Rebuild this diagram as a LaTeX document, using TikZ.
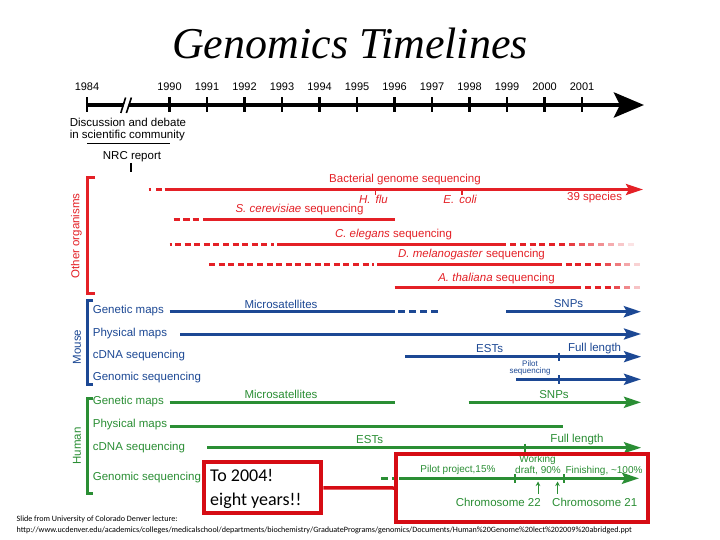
\documentclass[tikz,border=0pt]{standalone}
\usepackage{fontspec}
\setmainfont{Liberation Sans}
\newfontfamily\titlefont{Liberation Serif}
\newfontfamily\calib{Carlito}
\usetikzlibrary{arrows.meta}
\definecolor{ored}{RGB}{228,32,38}
\definecolor{mblue}{RGB}{28,72,148}
\definecolor{hgreen}{RGB}{42,142,52}
\definecolor{boxred}{RGB}{214,12,20}
\tikzset{
  yr/.style={font=\fontsize{11}{12}\selectfont, inner sep=0pt},
  txt/.style={font=\fontsize{11.5}{13}\selectfont, inner sep=0pt},
  smalltxt/.style={font=\fontsize{10}{12}\selectfont, inner sep=0pt},
  tinytxt/.style={font=\fontsize{8}{9}\selectfont, inner sep=0pt},
  rowlab/.style={txt, anchor=west},
  redline/.style={ored, line width=3pt},
  blueline/.style={mblue, line width=3pt},
  greenline/.style={hgreen, line width=3pt},
  tip/.style={-{Stealth[length=17pt,width=11pt,inset=3pt]}},
  dsh/.style={dash pattern=on 6pt off 3.6pt},
  boxx/.style={draw=boxred, line width=4pt, inner sep=0pt},
  foot/.style={font=\calib\fontsize{8.1}{9}\selectfont, anchor=west, inner sep=0pt},
  boxtxt/.style={font=\calib\fontsize{18}{20}\selectfont, anchor=west, inner sep=0pt},
}
\newcommand\fadedashes[4]{%
  \foreach \i in {0,...,#3}{%
    \pgfmathsetmacro\op{min(1,1.6*(1-\i/(#3+1)))}%
    \draw[#1, line width=3pt, opacity=\op] ({#2+\i*9.8},#4) -- ++(6,0);
  }}
\begin{document}
\begin{tikzpicture}[x=1pt,y=-1pt]
\path[use as bounding box, fill=white] (0,0) rectangle (720,540);

% title
\node[font=\titlefont\itshape\fontsize{44}{50}\selectfont, anchor=base, inner sep=0pt] (title) at (350,59) {Genomics Timelines};

% main axis
\coordinate (a0) at (86,105);
\coordinate (a1) at (644,105);
\draw[line width=4.5pt, -{Stealth[length=30pt,width=25pt,inset=6pt]}] (a0) -- (a1);
\node[yr] (y1984) at (87,87) {1984};
\draw[line width=2.2pt] (87,97.5) -- (87,112.5);
\foreach \yy [count=\k from 0] in {1990,...,2001} {
  \pgfmathsetmacro\xx{169.5+37.5*\k}
  \node[yr] (y\yy) at (\xx,87) {\yy};
  \draw[line width=2.2pt] (\xx,97.5) -- (\xx,112.5);
}
% break
\fill[white] (121.5,113) -- (126.5,97) -- (131,97) -- (126,113) -- cycle;
\draw[line width=1.6pt] (120.8,113) -- (125.6,97.5);
\draw[line width=1.6pt] (126.4,113) -- (131.4,97.5);

\node[rowlab] (disc1) at (69.6,122.7) {Discussion and debate};
\node[rowlab] (disc2) at (69.6,136) {in scientific community};
\draw[line width=1.5pt] (87,143.5) -- (169.5,143.5);
\node[txt] (nrc) at (132,157) {NRC report};
\draw[line width=2.5pt] (131,163) -- (131,172);

% ---------- Other organisms ----------
\draw[ored, line width=3pt] (95,178) -- (87,178) -- (87,293) -- (95,293);
\node[txt, text=ored, rotate=90] (oth) at (76.5,236) {Other organisms};

\draw[redline] (148.5,189.5) -- (151,189.5);
\draw[redline] (156,189.5) -- (162,189.5);
\draw[redline, tip] (164.6,189.5) -- (643,189.5);
\draw[ored, line width=1.2pt] (375.4,189.5) -- (375.4,195.5);
\draw[ored, line width=1.2pt] (462,189.5) -- (462,195.5);
\node[txt, text=ored] (bact) at (405,180) {Bacterial genome sequencing};
\node[txt, text=ored] (hflu) at (373.5,199) {\itshape H.\ \,flu};
\node[txt, text=ored] (ecoli) at (460,199) {\itshape E.\ \,coli};
\node[txt, text=ored] (spec) at (594.6,197.5) {39 species};

\draw[redline] (173.5,219.3) -- (180,219.3);
\draw[redline] (183,219.3) -- (190,219.3);
\draw[redline] (192.7,219.3) -- (198.5,219.3);
\draw[redline] (203,219.3) -- (394.5,219.3);
\node[txt, text=ored] (scer) at (299.5,210) {\textit{S. cerevisiae} sequencing};

\draw[redline] (169.5,244) -- (171.5,244);
\draw[redline, dsh] (175,244) -- (274,244);
\draw[redline] (277,244) -- (506,244);
\fadedashes{ored}{510}{12}{244}
\node[txt, text=ored] (cel) at (393.5,234.3) {\textit{C. elegans} sequencing};

\draw[redline, dsh] (209,264.3) -- (374,264.3);
\draw[redline] (377,264.3) -- (562,264.3);
\fadedashes{ored}{565.5}{7}{264.3}
\node[txt, text=ored] (dmel) at (471.5,255) {\textit{D. melanogaster} sequencing};

\draw[redline] (394.6,287.7) -- (581,287.7);
\fadedashes{ored}{585}{5}{287.7}
\node[txt, text=ored] (ath) at (496.5,279) {\textit{A. thaliana} sequencing};

% ---------- Mouse ----------
\draw[mblue, line width=3pt] (93,300) -- (87.7,300) -- (87.7,384) -- (93,384);
\node[txt, text=mblue, rotate=90] (mouse) at (77,347) {Mouse};
\node[rowlab, text=mblue] (mgen) at (92.7,311) {Genetic maps};
\node[rowlab, text=mblue] (mphy) at (92.7,333.3) {Physical maps};
\node[rowlab, text=mblue] (mcdna) at (92.7,356) {cDNA sequencing};
\node[rowlab, text=mblue] (mgs) at (92.7,378) {Genomic sequencing};

\draw[blueline, line width=3.5pt] (169.6,311.7) -- (394.6,311.7);
\draw[blueline, line width=3.5pt, dash pattern=on 7pt off 4pt] (398,311.7) -- (441,311.7);
\draw[blueline, line width=3.5pt, tip] (506,311.7) -- (641,311.7);
\node[txt, text=mblue] (mms) at (281,304) {Microsatellites};
\node[txt, text=mblue] (msnp) at (568.5,304) {SNPs};

\draw[blueline, tip] (180,334) -- (641,334);

\draw[blueline, line width=2.5pt, tip] (405,356.7) -- (641,356.7);
\draw[mblue, line width=2pt] (558.8,352.5) -- (558.8,361);
\node[txt, text=mblue] (mest) at (489.6,349) {ESTs};
\node[txt, text=mblue] (mfl) at (594.6,349) {Full length};

\draw[blueline, tip] (515.8,379.3) -- (641,379.3);
\draw[mblue, line width=2pt] (558.8,375) -- (558.8,383.5);
\node[tinytxt, text=mblue] (mpil) at (530,364) {Pilot};
\node[tinytxt, text=mblue] (mseq) at (530,371.7) {sequencing};

% ---------- Human ----------
\draw[hgreen, line width=3pt] (93,398) -- (87.7,398) -- (87.7,493.3) -- (93,493.3);
\node[txt, text=hgreen, rotate=90] (human) at (77,446) {Human};
\node[rowlab, text=hgreen] (hgen) at (92.7,401.7) {Genetic maps};
\node[rowlab, text=hgreen] (hphy) at (92.7,425) {Physical maps};
\node[rowlab, text=hgreen] (hcdna) at (92.7,447.7) {cDNA sequencing};
\node[rowlab, text=hgreen] (hgs) at (92.7,477.7) {Genomic sequencing};

\draw[greenline] (169.6,402.3) -- (394.6,402.3);
\draw[greenline, tip] (468.5,402.3) -- (641,402.3);
\node[txt, text=hgreen] (hms) at (281,394.3) {Microsatellites};
\node[txt, text=hgreen] (hsnp) at (554,394.3) {SNPs};

\draw[greenline] (169.6,426) -- (563,426);

\draw[greenline, line width=2.5pt, tip] (207,447.7) -- (641,447.7);
\draw[hgreen, line width=2pt] (525.4,443.5) -- (525.4,452);
\node[txt, text=hgreen] (hest) at (369.6,440) {ESTs};
\node[txt, text=hgreen] (hfl) at (577,440) {Full length};

\draw[greenline] (381,478.3) -- (388,478.3);
\draw[greenline] (391.5,478.3) -- (396.5,478.3);
\draw[greenline, tip] (399,478.3) -- (639,478.3);
\draw[hgreen, line width=2pt] (514.5,474) -- (514.5,482.5);
\draw[hgreen, line width=2pt] (564,474) -- (564,482.5);
\node[smalltxt, text=hgreen] (pilot) at (458,470) {Pilot project,15\%};
\node[smalltxt, text=hgreen] (work) at (537.5,460) {Working};
\node[smalltxt, text=hgreen] (draft) at (538,471) {draft, 90\%};
\node[smalltxt, text=hgreen] (fin) at (604,470.5) {Finishing, \textasciitilde100\%};
\node[txt, text=hgreen] (chr22) at (498.3,502.3) {Chromosome 22};
\node[txt, text=hgreen] (chr21) at (594.7,502.3) {Chromosome 21};
\coordinate (c22a) at (538,493.5);
\coordinate (c22b) at (538,481.5);
\coordinate (c21a) at (557.5,493.5);
\coordinate (c21b) at (557.5,481.5);
\draw[hgreen, line width=1pt, -{Stealth[length=4.5pt,width=4.5pt]}] (c22a) -- (c22b);
\draw[hgreen, line width=1pt, -{Stealth[length=4.5pt,width=4.5pt]}] (c21a) -- (c21b);

% ---------- red boxes ----------
\node[boxx, minimum width=117pt, minimum height=51pt] (sbox) at (262.8,487.8) {};
\node[boxtxt] (t1) at (210,475.5) {To 2004!};
\node[boxtxt] (t2) at (210,501) {eight years!!};
\node[boxx, minimum width=252pt, minimum height=68pt] (bbox) at (522,488) {};
\draw[boxred, line width=3.5pt] (sbox.east) -- (bbox.west);

% ---------- footer ----------
\node[foot] (f1) at (16.5,519.5) {Slide from University of Colorado Denver lecture:};
\node[foot] (f2) at (16.5,530.5) {http://www.ucdenver.edu/academics/colleges/medicalschool/departments/biochemistry/GraduatePrograms/genomics/Documents/Human\%20Genome\%20lect\%202009\%20abridged.ppt};
\end{tikzpicture}
\end{document}
